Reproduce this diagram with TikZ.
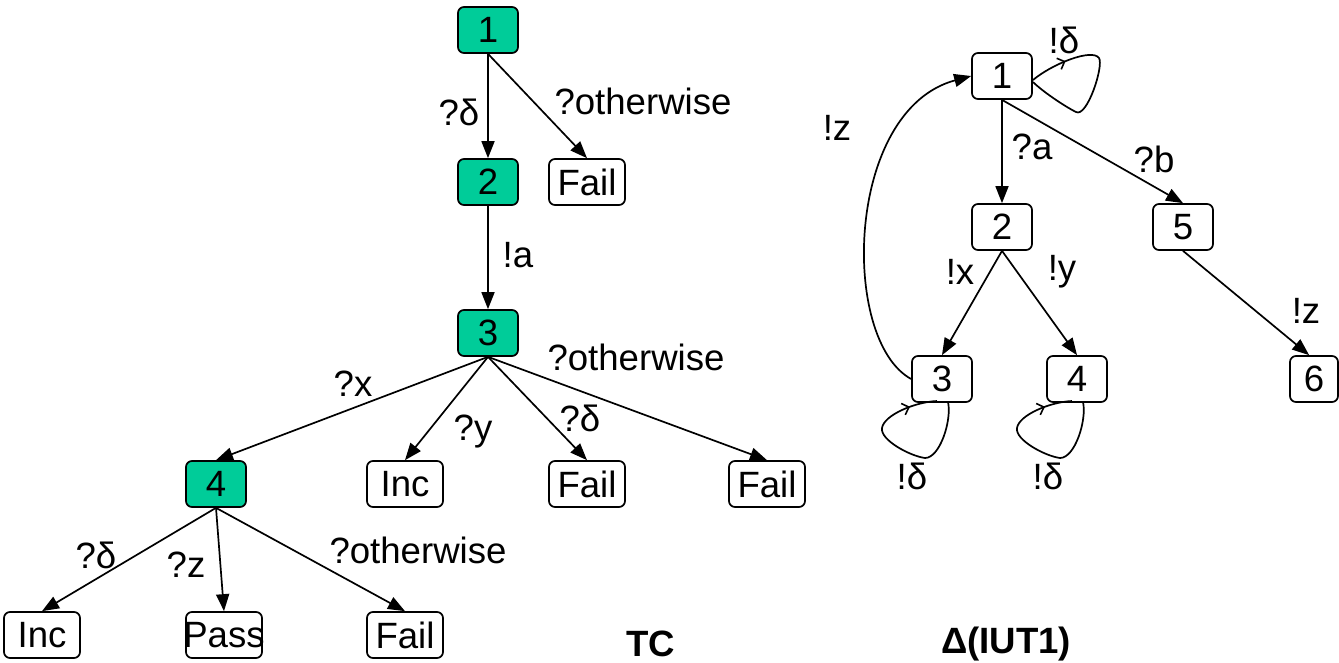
\documentclass[tikz,border=0pt]{standalone}
\usepackage{fontspec}
\setmainfont{Liberation Sans}
\usetikzlibrary{arrows.meta,calc,decorations.markings}
\definecolor{tcgreen}{RGB}{0,204,153}
\tikzset{
  nbox/.style={draw, line width=1.7pt, rounded corners=6pt, minimum width=60pt, minimum height=46pt, inner sep=0pt, font=\fontsize{36.6}{40}\selectfont},
  tcnode/.style={nbox, fill=tcgreen},
  leaf/.style={nbox, minimum width=76pt},
  lbl/.style={font=\fontsize{36.6}{40}\selectfont, inner sep=0pt},
  arr/.style={line width=1.7pt, -{Triangle[length=17pt,width=13pt]}},
  loopline/.style={line width=1.7pt, postaction={decorate}, decoration={markings, mark=at position #1 with {\arrow{Straight Barb[length=6pt,width=12pt,line width=1.6pt]}}}},
}
\begin{document}
\begin{tikzpicture}[x=1pt,y=-1pt]
\useasboundingbox (0,0) rectangle (1339,662);
% ---------- TC tree ----------
\node[tcnode] (t1) at (488,30) {1};
\node[tcnode] (t2) at (488,182) {2};
\node[leaf] (fa) at (587,182) {Fail};
\node[tcnode] (t3) at (488,333) {3};
\node[tcnode] (t4) at (216,484) {4};
\node[leaf] (ia) at (405,484) {Inc};
\node[leaf] (fb) at (587,484) {Fail};
\node[leaf] (fc) at (767,484) {Fail};
\node[leaf] (ib) at (42,635) {Inc};
\node[leaf] (pa) at (224,635) {\makebox[76pt]{Pass}};
\node[leaf] (fd) at (405,635) {Fail};

\draw[arr] (t1) -- (t2);
\draw[arr] (t1.south) -- (fa.north);
\draw[arr] (t2) -- (t3);
\draw[arr] (t3.south) -- (t4.north);
\draw[arr] (t3.south) -- (ia.north);
\draw[arr] (t3.south) -- (fb.north);
\draw[arr] (t3.south) -- (fc.north);
\draw[arr] (t4.south) -- (ib.north);
\draw[arr] (t4.south) -- (pa.north);
\draw[arr] (t4.south) -- (fd.north);

\node[lbl] (l1) at (459,112) {?δ};
\node[lbl] (l2) at (643,101) {?otherwise};
\node[lbl] (l3) at (518,255) {!a};
\node[lbl] (l4) at (636,357) {?otherwise};
\node[lbl] (l5) at (353,384) {?x};
\node[lbl] (l6) at (473,432) {?y};
\node[lbl] (l7) at (580,418) {?δ};
\node[lbl] (l8) at (96,555) {?δ};
\node[lbl] (l9) at (186,565) {?z};
\node[lbl] (l10) at (418,550) {?otherwise};
\node[lbl, font=\fontsize{36.6}{40}\selectfont\bfseries] (tc) at (651,644) {TC};

% ---------- Delta(IUT1) ----------
\node[nbox] (r1) at (1002,76) {1};
\node[nbox] (r2) at (1002,227) {2};
\node[nbox] (r5) at (1183,227) {5};
\node[nbox] (r3) at (942,379) {3};
\node[nbox] (r4) at (1077,379) {4};
\node[nbox, minimum width=48pt] (r6) at (1314,379) {6};

\draw[arr] (r1) -- (r2);
\draw[arr] (r1.south) -- (r5.north);
\draw[arr] (r2.south) -- (r3.north);
\draw[arr] (r2.south) -- (r4.north);
\draw[arr] (r5.south) -- ($(r6.north west)+(20,0)$);
\draw[arr] (r3.west) .. controls (840,340) and (845,110) .. (r1.west);

\begin{scope}[shift={(r1.center)}]
\draw[loopline=0.2] (31,4) .. controls (50,-12) and (90,-28) .. (97,-18) .. controls (102,-10) and (85,42) .. (74,36) .. controls (62,30) and (40,15) .. (31,6);
\end{scope}
\begin{scope}[shift={(r3.center)}]
\draw[loopline=0.85] (6,23) .. controls (10,41) and (-2,79) .. (-17,79) .. controls (-32,77) and (-62,61) .. (-60,49) .. controls (-58,36) and (-27,23) .. (-5,22);
\end{scope}
\begin{scope}[shift={(r4.center)}]
\draw[loopline=0.85] (6,23) .. controls (10,41) and (-2,79) .. (-17,79) .. controls (-32,77) and (-62,61) .. (-60,49) .. controls (-58,36) and (-27,23) .. (-5,22);
\end{scope}

\node[lbl] (m1) at (1064,40) {!δ};
\node[lbl] (m2) at (837,128) {!z};
\node[lbl] (m3) at (1032,147) {?a};
\node[lbl] (m4) at (1154,159) {?b};
\node[lbl] (m5) at (960,272) {!x};
\node[lbl] (m6) at (1062,272) {!y};
\node[lbl] (m7) at (1306,311) {!z};
\node[lbl] (m8) at (912,476) {!δ};
\node[lbl] (m9) at (1048,476) {!δ};
\node[lbl, font=\fontsize{36.6}{40}\selectfont\bfseries] (iut) at (1006,644) {Δ(IUT1)};
\end{tikzpicture}
\end{document}
